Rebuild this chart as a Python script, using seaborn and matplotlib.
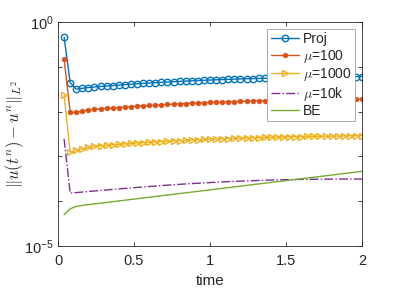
import matplotlib
matplotlib.use('Agg')
import matplotlib.pyplot as plt
import numpy as np
import pandas as pd
import seaborn as sns

# time levels t^n
time = [0.04, 0.08, 0.12, 0.16, 0.20, 0.24, 0.28, 0.32, 0.36, 0.40,
        0.44, 0.48, 0.52, 0.56, 0.60, 0.64, 0.68, 0.72, 0.76, 0.80,
        0.84, 0.88, 0.92, 0.96, 1.00, 1.04, 1.08, 1.12, 1.16, 1.20,
        1.24, 1.28, 1.32, 1.36, 1.40, 1.44, 1.48, 1.52, 1.56, 1.60,
        1.64, 1.68, 1.72, 1.76, 1.80, 1.84, 1.88, 1.92, 1.96, 2.00]

# log10 of the L2 error
proj_log = [-0.34, -1.355, -1.50, -1.48, -1.465, -1.45, -1.44, -1.43, -1.42, -1.41,
            -1.40, -1.39, -1.38, -1.372, -1.364, -1.356, -1.348, -1.341, -1.334, -1.327,
            -1.32, -1.314, -1.308, -1.302, -1.296, -1.291, -1.286, -1.281, -1.276, -1.272,
            -1.268, -1.264, -1.26, -1.256, -1.253, -1.25, -1.247, -1.244, -1.241, -1.238,
            -1.236, -1.234, -1.232, -1.23, -1.228, -1.226, -1.224, -1.222, -1.22, -1.218]
mu100_log = [-0.83, -2.015, -2.02, -1.99, -1.968, -1.95, -1.94, -1.93, -1.92, -1.91,
             -1.90, -1.89, -1.88, -1.872, -1.864, -1.856, -1.848, -1.841, -1.834, -1.827,
             -1.82, -1.814, -1.808, -1.802, -1.796, -1.791, -1.786, -1.781, -1.776, -1.772,
             -1.768, -1.764, -1.76, -1.756, -1.753, -1.75, -1.747, -1.744, -1.741, -1.738,
             -1.736, -1.734, -1.732, -1.73, -1.728, -1.726, -1.724, -1.722, -1.72, -1.718]
mu1000_log = [-1.63, -2.91, -2.86, -2.83, -2.795, -2.77, -2.76, -2.75, -2.74, -2.73,
              -2.72, -2.71, -2.70, -2.692, -2.684, -2.676, -2.668, -2.661, -2.654, -2.647,
              -2.64, -2.634, -2.628, -2.622, -2.616, -2.611, -2.606, -2.601, -2.596, -2.592,
              -2.588, -2.584, -2.58, -2.576, -2.573, -2.57, -2.567, -2.564, -2.561, -2.558,
              -2.556, -2.554, -2.552, -2.55, -2.548, -2.546, -2.544, -2.542, -2.54, -2.538]
mu10k_log = [-2.61, -3.82, -3.808, -3.796, -3.784, -3.772, -3.76, -3.748, -3.737, -3.726,
             -3.715, -3.704, -3.693, -3.682, -3.672, -3.662, -3.652, -3.642, -3.633, -3.624,
             -3.615, -3.607, -3.599, -3.591, -3.584, -3.577, -3.57, -3.564, -3.558, -3.552,
             -3.547, -3.542, -3.537, -3.533, -3.529, -3.525, -3.522, -3.519, -3.516, -3.514,
             -3.512, -3.51, -3.509, -3.508, -3.507, -3.506, -3.506, -3.506, -3.506, -3.506]
be_log = [-4.30, -4.17, -4.115, -4.094, -4.077, -4.06, -4.044, -4.027, -4.011, -3.994,
          -3.978, -3.961, -3.945, -3.928, -3.912, -3.895, -3.879, -3.862, -3.846, -3.829,
          -3.813, -3.796, -3.78, -3.763, -3.747, -3.73, -3.714, -3.697, -3.681, -3.664,
          -3.648, -3.631, -3.615, -3.598, -3.582, -3.565, -3.549, -3.532, -3.516, -3.499,
          -3.483, -3.466, -3.45, -3.433, -3.417, -3.40, -3.384, -3.367, -3.351, -3.334]

labels = ['Proj', r'$\mu$=100', r'$\mu$=1000', r'$\mu$=10k', 'BE']

sns.set_theme(style='ticks')
plt.rcParams['font.family'] = ['Liberation Sans', 'DejaVu Sans']
plt.rcParams['mathtext.fontset'] = 'cm'
plt.rcParams['axes.edgecolor'] = '#262626'
plt.rcParams['xtick.color'] = '#262626'
plt.rcParams['ytick.color'] = '#262626'

df = pd.DataFrame({'time': time,
                   'Proj': 10.0 ** np.array(proj_log),
                   'mu100': 10.0 ** np.array(mu100_log),
                   'mu1000': 10.0 ** np.array(mu1000_log),
                   'mu10k': 10.0 ** np.array(mu10k_log),
                   'BE': 10.0 ** np.array(be_log)})

fig = plt.figure(figsize=(3.99, 2.91), dpi=100)
ax = fig.add_axes([0.1454, 0.1546, 0.762, 0.77])

styles = [
    ('Proj', '#0072BD', dict(marker='o', markersize=4.6, mfc='none', mew=1.0, linestyle='-')),
    ('mu100', '#D95319', dict(marker='o', markersize=3.4, mew=0.5, linestyle='-')),
    ('mu1000', '#EDB120', dict(marker='>', markersize=5, mfc='none', mew=1.0, linestyle='-')),
    ('mu10k', '#7E2F8E', dict(linestyle='-.')),
    ('BE', '#77AC30', dict(linestyle='-')),
]
for (col, color, kw), lab in zip(styles, labels):
    if 'marker' in kw:
        kw['mec'] = color
    sns.lineplot(data=df, x='time', y=col, ax=ax, label=lab, color=color, linewidth=1.0, **kw)

ax.set_yscale('log')
ax.set_xlim(0, 2)
ax.set_ylim(1e-5, 1e0)
ax.set_xticks([0, 0.5, 1, 1.5, 2])
ax.set_xticklabels(['0', '0.5', '1', '1.5', '2'])
ax.set_yticks([1e-5, 1e-4, 1e-3, 1e-2, 1e-1, 1e0])
ax.set_yticklabels([r'$\mathdefault{10^{-5}}$', '', '', '', '', r'$\mathdefault{10^{0}}$'])
ax.minorticks_off()
ax.tick_params(axis='both', which='major', direction='in', length=3, width=0.6,
               labelsize=10.5, top=True, right=True)
ax.tick_params(axis='x', pad=6)
ax.tick_params(axis='y', pad=3)
for sp in ax.spines.values():
    sp.set_linewidth(0.6)

ax.set_xlabel('time', fontsize=11, labelpad=4)
ax.set_ylabel(r'$\|u(t^n)-u^n\|_{L^2}$', fontsize=12)
ax.yaxis.set_label_coords(-0.105, 0.5)

leg = ax.legend(loc='upper right', fontsize=10, frameon=True, fancybox=False,
                handlelength=2.0, borderaxespad=0.5, labelspacing=0.1,
                handletextpad=0.3, borderpad=0.25)
leg.get_frame().set_edgecolor('#a0a0a0')
leg.get_frame().set_linewidth(0.6)
leg.get_frame().set_alpha(1.0)

fig.savefig('out.png', dpi=100)
plt.close(fig)
